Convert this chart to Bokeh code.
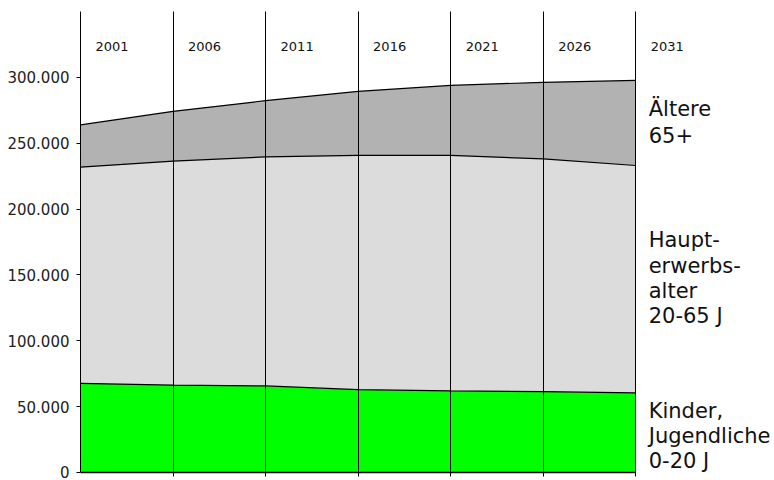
import numpy as np
from bokeh.plotting import figure
from bokeh.models import Range1d, FixedTicker, Label, LabelSet, ColumnDataSource
from bokeh.core.properties import value
from bokeh.embed import file_html
from bokeh.resources import INLINE

# ---- data ----
years = [2001, 2006, 2011, 2016, 2021, 2026, 2031]
year_labels = ["2001", "2006", "2011", "2016", "2021", "2026", "2031"]
kinder = [67700, 66400, 65700, 62900, 61900, 61400, 60400]        # 0-20 J
haupt = [164100, 170000, 173900, 177800, 178800, 176700, 172700]   # 20-65 J
aeltere = [32100, 37800, 42700, 48700, 53200, 58100, 64600]        # 65+
series_names = ["Kinder,\nJugendliche\n0-20 J", "Haupt-\nerwerbs-\nalter\n20-65 J", "Ältere\n65+"]
series_colors = ["#00ff00", "#dcdcdc", "#b2b2b2"]
y_ticks = [0, 50000, 100000, 150000, 200000, 250000, 300000]
y_tick_labels = ["0", "50.000", "100.000", "150.000", "200.000", "250.000", "300.000"]

FONT = "DejaVu Sans"

c1 = np.array(kinder)
c2 = c1 + np.array(haupt)
c3 = c2 + np.array(aeltere)
src = ColumnDataSource(dict(x=years, z=[0] * len(years), c1=c1, c2=c2, c3=c3))

# a few pixels below zero so the vertical lines poke out under the baseline like ticks
p = figure(width=774, height=480, output_backend="svg", toolbar_location=None,
           x_range=Range1d(2001, 2038.5), y_range=Range1d(-3037, 350000),
           min_border_left=80, min_border_right=0, min_border_top=11, min_border_bottom=4)
p.outline_line_color = None
p.background_fill_color = "white"

bounds = [("z", "c1"), ("c1", "c2"), ("c2", "c3")]
for (lo, hi), col in zip(bounds, series_colors):
    p.varea(x="x", y1=lo, y2=hi, source=src, fill_color=col)
for hi in ["c1", "c2", "c3"]:
    p.line(x="x", y=hi, source=src, line_color="black", line_width=1.2)
# baseline (x axis line)
p.line(x="x", y="z", source=src, line_color="black", line_width=1.6)

# y axis
p.yaxis.ticker = FixedTicker(ticks=y_ticks)
p.yaxis.bounds = (0, 350000)
p.yaxis.major_label_overrides = {t: l for t, l in zip(y_ticks, y_tick_labels)}
p.yaxis.major_label_text_font = FONT
p.yaxis.major_label_text_font_size = "15px"
p.yaxis.major_label_text_color = "#222222"
p.yaxis.major_tick_in = 0
p.yaxis.major_tick_out = 4
p.yaxis.minor_tick_line_color = None
p.yaxis.major_label_standoff = 7
p.yaxis.axis_line_color = "black"
p.yaxis.major_tick_line_color = "black"

p.xaxis.visible = False

p.ygrid.grid_line_color = None
p.xgrid.ticker = FixedTicker(ticks=years)
p.xgrid.grid_line_color = "black"
p.xgrid.grid_line_width = 1
p.xgrid.level = "overlay"

# year labels at the top
ysrc = ColumnDataSource(dict(x=years, y=[323400] * len(years), t=year_labels))
p.add_layout(LabelSet(x="x", y="y", text="t", source=ysrc, x_offset=15,
                      text_font=value(FONT), text_font_size=value("13px"), text_color="#111111",
                      text_baseline="middle", text_align="left"))

# series labels at the right
label_y = [55950, 185250, 285250]
line_h = [1.05, 1.05, 1.12]
for name, ly, lh in zip(series_names, label_y, line_h):
    p.add_layout(Label(x=years[-1], y=ly, text=name, x_offset=13,
                       text_font=FONT, text_font_size="21px", text_color="#111111",
                       text_baseline="top", text_align="left", text_line_height=lh))

open("out.html", "w").write(file_html(p, INLINE))
